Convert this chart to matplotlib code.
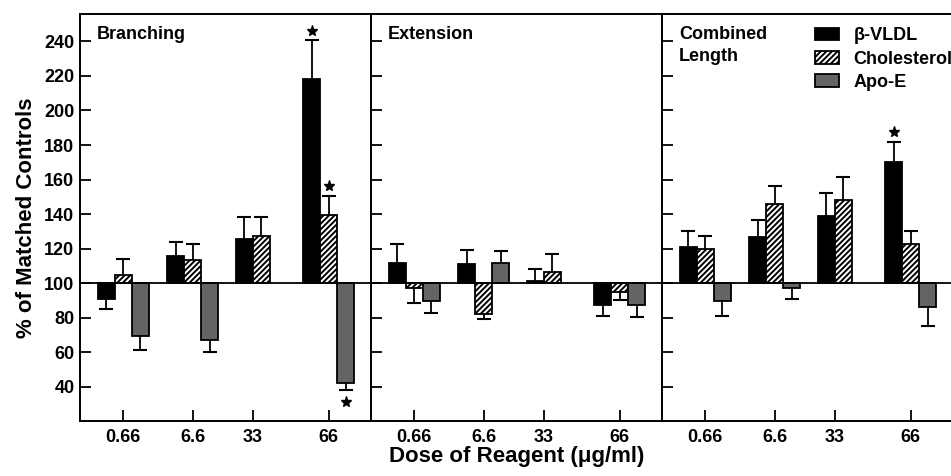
import numpy as np
import matplotlib
matplotlib.use('Agg')
import matplotlib.pyplot as plt
from matplotlib.patches import Patch

# data (% of matched controls, one-sided SEM)
panels = ['Branching', 'Extension', 'Combined\nLength']
doses = ['0.66', '6.6', '33', '66']
series = ['β-VLDL', 'Cholesterol', 'Apo-E']

vldl = [[91, 116, 125.5, 218], [112, 111, 101.5, 87.5], [121, 126.5, 139, 170]]
vldl_err = [[6, 8, 13, 22.5], [10.5, 8, 7, 6.5], [9.5, 10, 13, 12]]
chol = [[104.5, 113.5, 127.5, 139.5], [97, 82, 106.5, 95], [120, 146, 148, 123]]
chol_err = [[9.5, 9.5, 11, 11], [8.5, 2.5, 10.5, 4.7], [7.5, 10.5, 13.5, 7]]
apoe = [[69.5, 67, np.nan, 42.5], [90, 111.5, np.nan, 87.5], [89.5, 97.5, np.nan, 86.5]]
apoe_err = [[8, 7, np.nan, 4], [7, 7, np.nan, 6.8], [8.5, 6.8, np.nan, 11.5]]
# significance stars: (panel, series, dose)
stars = [(0, 0, 3), (0, 1, 3), (0, 2, 3), (2, 0, 3)]

plt.rcParams['font.family'] = ['Liberation Sans', 'DejaVu Sans']
plt.rcParams['font.weight'] = 'bold'
plt.rcParams['hatch.linewidth'] = 1.4

fig = plt.figure(figsize=(9.51, 4.76), dpi=100)
left, bottom, w, h = 80 / 951, 1 - 421 / 476, 291 / 951, (421 - 14) / 476

centers = np.array([43, 112.5, 172.5, 248.5])
bw = 17
styles = [dict(color='black', edgecolor='black'),
          dict(color='white', edgecolor='black', hatch='//////'),
          dict(color='#646464', edgecolor='black')]

axes = []
for p in range(3):
    ax = fig.add_axes([left + p * w, bottom, w, h])
    axes.append(ax)
    vals = [vldl[p], chol[p], apoe[p]]
    errs = [vldl_err[p], chol_err[p], apoe_err[p]]
    for s in range(3):
        for d in range(4):
            v = vals[s][d]
            if np.isnan(v):
                continue
            n = 3 if not np.isnan(apoe[p][d]) else 2
            off = (s - (n - 1) / 2) * bw
            x = centers[d] + off
            ax.bar(x, v - 100, bottom=100, width=bw, linewidth=1.3, zorder=2, **styles[s])
            e = errs[s][d]
            tip = v + e if v >= 100 else v - e
            ax.vlines(x, v, tip, color='black', linewidth=1.3, zorder=1)
            ax.plot([x], [tip], marker='_', ms=10, mew=1.5, color='black', zorder=1)
            if (p, s, d) in stars:
                sy = tip + 5.5 if v >= 100 else tip - 7
                ax.plot([x], [sy], marker='*', ms=8, color='black', linestyle='None')
    ax.axhline(100, color='black', linewidth=1.3, zorder=3)
    ax.set_xlim(0, 291)
    ax.set_ylim(20.3, 255.8)
    ax.set_xticks(centers)
    ax.set_xticklabels(doses, fontsize=13, fontweight='bold')
    ax.set_yticks(np.arange(40, 241, 20))
    ax.tick_params(axis='y', direction='in', length=8, width=1.3, left=True, right=False,
                   labelleft=(p == 0), labelsize=13, pad=4)
    ax.tick_params(axis='x', direction='in', length=8, width=1.3, pad=6)
    for sp in ax.spines.values():
        sp.set_linewidth(1.4)
    ax.text(17 / 291, 0.97, panels[p], transform=ax.transAxes, fontsize=13,
            fontweight='bold', va='top', ha='left', linespacing=1.35)

axes[0].set_ylabel('% of Matched Controls', fontsize=16, fontweight='bold', labelpad=5)
axes[1].set_xlabel('Dose of Reagent (μg/ml)', fontsize=16, fontweight='bold', labelpad=0)

handles = [Patch(facecolor=st['color'], edgecolor='black', hatch=st.get('hatch'), linewidth=1.3)
           for st in styles]
axes[2].legend(handles, series, loc='upper left', bbox_to_anchor=(0.527, 0.967), frameon=False,
               handlelength=1.3, handleheight=0.7, handletextpad=0.8,
               labelspacing=0.35, borderpad=0, borderaxespad=0, prop={'weight': 'bold', 'size': 13})

fig.savefig('out.png', dpi=100)
